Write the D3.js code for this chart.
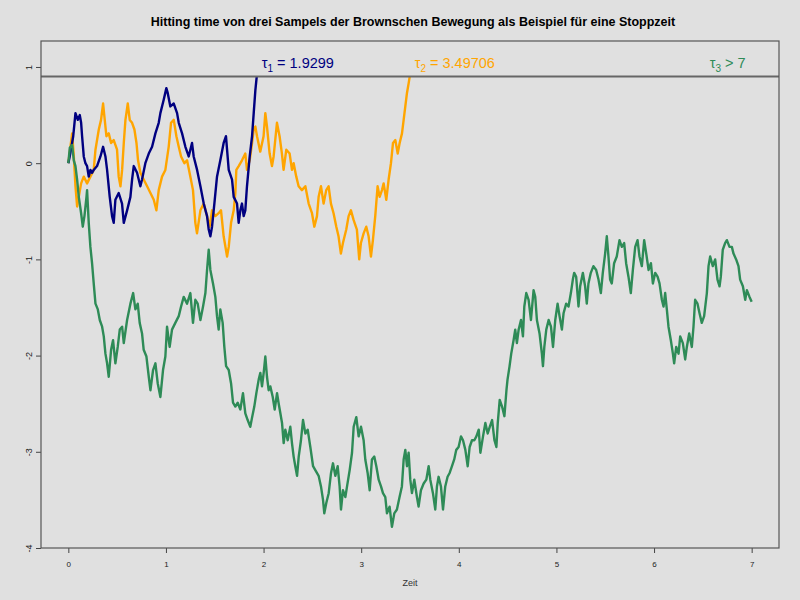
<!DOCTYPE html>
<html>
<head>
<meta charset="utf-8">
<script src="https://cdn.jsdelivr.net/npm/d3@7"></script>
<style>
    body { margin: 0; background: #e0e0e0; }
    svg { display: block; }
</style>
</head>
<body>
<svg id="chart"></svg>
<script>
// Hitting time der Brownschen Bewegung, drei Pfade
const level = 0.9;
const xTicks = [0, 1, 2, 3, 4, 5, 6, 7];
const yTicks = [-4, -3, -2, -1, 0, 1];
const taus = [1.9299, 3.49706, 7];
const tauLabels = ["= 1.9299", "= 3.49706", "> 7"];
const colors = ["#000080", "#ffa500", "#2e8b57"];

// Pfad 1 [Zeit, Wert]
const path1 = [[0,0],[0.02,0.10],[0.05,0.28],[0.073,0.52],[0.097,0.45],[0.117,0.50],[0.131,0.42],[0.141,0.28],[0.158,0.07],[0.175,0.0],[0.192,-0.03],[0.209,-0.14],[0.226,-0.07],[0.243,-0.10],[0.26,-0.07],[0.294,-0.03],[0.329,0.07],[0.356,0.17],[0.38,0.07],[0.397,-0.07],[0.424,-0.35],[0.448,-0.55],[0.465,-0.62],[0.482,-0.38],[0.516,-0.31],[0.55,-0.42],[0.568,-0.62],[0.602,-0.49],[0.636,-0.35],[0.653,-0.17],[0.67,-0.03],[0.704,-0.10],[0.738,-0.24],[0.755,-0.17],[0.789,0.0],[0.824,0.10],[0.858,0.17],[0.892,0.31],[0.926,0.42],[0.943,0.52],[0.977,0.66],[1.004,0.78],[1.018,0.73],[1.045,0.59],[1.08,0.62],[1.114,0.52],[1.131,0.42],[1.165,0.31],[1.199,0.17],[1.233,0.07],[1.267,0.21],[1.284,0.07],[1.319,-0.07],[1.353,-0.24],[1.387,-0.42],[1.421,-0.55],[1.438,-0.69],[1.455,-0.76],[1.472,-0.66],[1.496,-0.42],[1.523,-0.14],[1.557,0.03],[1.591,0.21],[1.615,0.28],[1.626,0.14],[1.643,-0.07],[1.677,-0.17],[1.694,-0.35],[1.728,-0.42],[1.745,-0.62],[1.762,-0.49],[1.779,-0.42],[1.796,-0.55],[1.813,-0.49],[1.83,-0.24],[1.858,0.07],[1.882,0.28],[1.899,0.52],[1.916,0.76],[1.9299,0.9]];

// Pfad 2
const path2 = [[0,0],[0.039,0.31],[0.056,0.07],[0.073,-0.24],[0.09,-0.45],[0.107,-0.35],[0.131,-0.21],[0.158,-0.14],[0.192,-0.21],[0.226,-0.14],[0.26,-0.07],[0.278,0.14],[0.312,0.35],[0.335,0.45],[0.356,0.62],[0.37,0.48],[0.39,0.28],[0.414,0.31],[0.438,0.21],[0.465,0.24],[0.499,0.14],[0.516,-0.14],[0.534,-0.24],[0.551,-0.07],[0.568,0.21],[0.585,0.45],[0.609,0.62],[0.629,0.45],[0.653,0.42],[0.677,0.35],[0.698,0.21],[0.714,0.03],[0.738,-0.10],[0.772,-0.17],[0.807,-0.24],[0.841,-0.31],[0.875,-0.38],[0.902,-0.49],[0.926,-0.28],[0.96,-0.14],[0.994,-0.07],[1.028,0.17],[1.052,0.42],[1.08,0.45],[1.107,0.28],[1.131,0.17],[1.155,0.07],[1.189,0.0],[1.216,0.03],[1.25,-0.14],[1.277,-0.28],[1.301,-0.62],[1.318,-0.73],[1.353,-0.49],[1.387,-0.42],[1.421,-0.55],[1.448,-0.66],[1.472,-0.49],[1.506,-0.55],[1.54,-0.52],[1.564,-0.49],[1.591,-0.76],[1.626,-0.97],[1.643,-0.87],[1.667,-0.62],[1.694,-0.49],[1.711,-0.31],[1.721,-0.07],[1.745,-0.03],[1.779,0.03],[1.813,0.10],[1.83,-0.07],[1.858,0.03],[1.882,0.21],[1.899,0.35],[1.916,0.38],[1.933,0.28],[1.966,0.12],[2.0,0.28],[2.018,0.52],[2.035,0.38],[2.062,0.10],[2.086,-0.03],[2.103,0.07],[2.137,0.42],[2.164,0.28],[2.188,0.10],[2.205,-0.07],[2.233,0.14],[2.267,0.10],[2.291,-0.07],[2.308,0.0],[2.335,-0.14],[2.359,-0.24],[2.393,-0.28],[2.428,-0.24],[2.462,-0.42],[2.496,-0.52],[2.52,-0.66],[2.547,-0.55],[2.564,-0.35],[2.588,-0.24],[2.615,-0.42],[2.642,-0.28],[2.666,-0.24],[2.69,-0.42],[2.717,-0.52],[2.745,-0.66],[2.768,-0.76],[2.792,-0.94],[2.813,-0.83],[2.847,-0.69],[2.871,-0.55],[2.895,-0.49],[2.922,-0.59],[2.956,-0.69],[2.98,-1.0],[2.997,-0.83],[3.025,-0.73],[3.052,-0.66],[3.076,-0.76],[3.1,-0.97],[3.12,-0.80],[3.144,-0.55],[3.168,-0.24],[3.189,-0.35],[3.213,-0.28],[3.23,-0.21],[3.257,-0.38],[3.281,-0.17],[3.305,0.0],[3.326,0.21],[3.35,0.24],[3.374,0.10],[3.394,0.21],[3.418,0.31],[3.435,0.45],[3.452,0.59],[3.469,0.73],[3.486,0.83],[3.49706,0.9]];

// Pfad 3
const path3 = [[0,0],[0.015,0.16],[0.039,0.19],[0.056,0.03],[0.073,-0.03],[0.09,-0.17],[0.107,-0.35],[0.131,-0.52],[0.148,-0.66],[0.165,-0.55],[0.186,-0.35],[0.192,-0.28],[0.209,-0.62],[0.226,-0.87],[0.243,-1.04],[0.26,-1.25],[0.278,-1.46],[0.302,-1.52],[0.322,-1.63],[0.346,-1.7],[0.363,-1.8],[0.38,-1.98],[0.397,-2.08],[0.414,-2.22],[0.438,-1.94],[0.458,-1.84],[0.482,-2.08],[0.506,-1.91],[0.527,-1.73],[0.551,-1.7],[0.568,-1.87],[0.602,-1.63],[0.636,-1.46],[0.664,-1.35],[0.687,-1.52],[0.711,-1.46],[0.731,-1.66],[0.755,-1.77],[0.772,-1.94],[0.8,-2.01],[0.824,-2.22],[0.841,-2.36],[0.868,-2.15],[0.892,-2.08],[0.916,-2.29],[0.943,-2.43],[0.97,-2.15],[0.994,-2.01],[1.011,-1.7],[1.038,-1.91],[1.062,-1.73],[1.096,-1.66],[1.131,-1.59],[1.155,-1.49],[1.182,-1.39],[1.216,-1.46],[1.25,-1.35],[1.277,-1.66],[1.301,-1.42],[1.325,-1.46],[1.353,-1.63],[1.38,-1.49],[1.404,-1.35],[1.421,-1.11],[1.438,-0.9],[1.455,-1.11],[1.482,-1.25],[1.506,-1.39],[1.523,-1.59],[1.54,-1.73],[1.557,-1.52],[1.581,-1.66],[1.598,-1.91],[1.616,-2.11],[1.643,-2.15],[1.667,-2.29],[1.687,-2.49],[1.711,-2.53],[1.735,-2.49],[1.762,-2.56],[1.789,-2.39],[1.813,-2.6],[1.837,-2.67],[1.864,-2.74],[1.881,-2.65],[1.905,-2.53],[1.926,-2.39],[1.95,-2.25],[1.967,-2.18],[1.984,-2.32],[2.001,-2.18],[2.018,-2.01],[2.035,-2.22],[2.052,-2.36],[2.069,-2.32],[2.094,-2.43],[2.114,-2.56],[2.138,-2.39],[2.155,-2.5],[2.172,-2.6],[2.189,-2.7],[2.206,-2.91],[2.223,-2.77],[2.247,-2.88],[2.274,-2.74],[2.291,-2.91],[2.308,-3.05],[2.325,-3.15],[2.343,-3.25],[2.36,-3.05],[2.383,-2.88],[2.404,-2.67],[2.428,-2.81],[2.452,-2.77],[2.479,-2.95],[2.507,-3.15],[2.53,-3.19],[2.564,-3.25],[2.588,-3.36],[2.609,-3.5],[2.622,-3.64],[2.643,-3.53],[2.667,-3.43],[2.691,-3.22],[2.711,-3.12],[2.735,-3.25],[2.759,-3.15],[2.779,-3.36],[2.793,-3.6],[2.813,-3.4],[2.838,-3.47],[2.855,-3.36],[2.882,-3.19],[2.906,-3.01],[2.923,-2.74],[2.95,-2.64],[2.974,-2.84],[2.998,-2.74],[3.025,-2.88],[3.042,-3.08],[3.066,-3.22],[3.087,-3.4],[3.11,-3.08],[3.134,-3.05],[3.155,-3.15],[3.179,-3.29],[3.203,-3.36],[3.223,-3.43],[3.247,-3.47],[3.264,-3.64],[3.291,-3.57],[3.315,-3.78],[3.339,-3.64],[3.366,-3.6],[3.393,-3.47],[3.417,-3.36],[3.435,-3.08],[3.452,-2.98],[3.469,-3.15],[3.486,-3.01],[3.503,-3.29],[3.52,-3.43],[3.544,-3.29],[3.571,-3.47],[3.588,-3.57],[3.612,-3.4],[3.64,-3.33],[3.667,-3.29],[3.691,-3.15],[3.708,-3.29],[3.735,-3.43],[3.759,-3.6],[3.776,-3.36],[3.793,-3.26],[3.817,-3.36],[3.838,-3.6],[3.861,-3.36],[3.885,-3.26],[3.906,-3.22],[3.93,-3.15],[3.953,-3.08],[3.974,-2.98],[3.998,-2.95],[4.022,-2.84],[4.043,-2.88],[4.067,-2.98],[4.091,-3.15],[4.111,-2.95],[4.135,-2.88],[4.159,-2.88],[4.18,-2.84],[4.204,-2.77],[4.221,-3.01],[4.248,-2.84],[4.272,-2.7],[4.296,-2.81],[4.317,-2.74],[4.341,-2.67],[4.365,-2.88],[4.385,-2.95],[4.399,-2.7],[4.419,-2.46],[4.443,-2.53],[4.467,-2.63],[4.488,-2.36],[4.499,-2.25],[4.52,-2.11],[4.537,-1.98],[4.561,-1.84],[4.578,-1.73],[4.595,-1.87],[4.613,-1.73],[4.637,-1.63],[4.657,-1.8],[4.671,-1.49],[4.691,-1.35],[4.715,-1.42],[4.739,-1.63],[4.766,-1.32],[4.783,-1.39],[4.8,-1.63],[4.827,-1.77],[4.851,-1.98],[4.862,-2.11],[4.876,-1.91],[4.896,-1.73],[4.92,-1.63],[4.944,-1.7],[4.965,-1.91],[4.988,-1.63],[5.012,-1.46],[5.032,-1.59],[5.056,-1.73],[5.073,-1.56],[5.1,-1.46],[5.124,-1.49],[5.148,-1.35],[5.168,-1.21],[5.182,-1.14],[5.202,-1.18],[5.226,-1.49],[5.243,-1.28],[5.271,-1.14],[5.294,-1.28],[5.311,-1.46],[5.328,-1.25],[5.352,-1.14],[5.379,-1.07],[5.407,-1.11],[5.431,-1.21],[5.455,-1.35],[5.475,-1.14],[5.499,-0.94],[5.516,-0.76],[5.533,-0.97],[5.55,-1.21],[5.567,-1.25],[5.591,-1.04],[5.618,-0.97],[5.646,-0.8],[5.67,-0.87],[5.694,-0.83],[5.714,-1.04],[5.738,-1.18],[5.762,-1.35],[5.783,-1.11],[5.807,-0.87],[5.831,-0.8],[5.851,-0.97],[5.875,-1.07],[5.899,-0.8],[5.92,-0.94],[5.944,-1.11],[5.968,-1.04],[5.988,-1.25],[6.012,-1.14],[6.036,-1.18],[6.056,-1.25],[6.08,-1.42],[6.097,-1.49],[6.114,-1.35],[6.131,-1.52],[6.148,-1.7],[6.172,-1.84],[6.193,-1.98],[6.206,-2.08],[6.227,-1.91],[6.251,-1.98],[6.268,-1.8],[6.295,-1.87],[6.319,-2.04],[6.336,-1.91],[6.36,-1.77],[6.387,-1.91],[6.404,-1.7],[6.421,-1.42],[6.445,-1.46],[6.466,-1.56],[6.489,-1.66],[6.513,-1.59],[6.541,-1.35],[6.558,-1.07],[6.575,-0.97],[6.602,-1.07],[6.626,-1.0],[6.65,-1.21],[6.671,-1.28],[6.684,-1.18],[6.704,-0.9],[6.728,-0.83],[6.746,-0.8],[6.773,-0.87],[6.797,-0.87],[6.814,-0.94],[6.841,-1.0],[6.865,-1.07],[6.882,-1.21],[6.91,-1.28],[6.934,-1.42],[6.951,-1.32],[6.978,-1.39],[7.0,-1.44]];

const paths = [path1, path2, path3];

const width = 800;
const height = 600;
const margin = ({top: 41, right: 21, bottom: 52, left: 41});

const svg = d3.select("#chart")
    .attr("width", width)
    .attr("height", height)
    .attr("viewBox", [0, 0, width, height])
    .style("font-family", "'Liberation Sans', Arial, sans-serif");

svg.append("rect")
    .attr("width", width)
    .attr("height", height)
    .attr("fill", "#e0e0e0");

let x = d3.scaleLinear()
    .domain([-0.28, 7.28])
    .range([margin.left, width - margin.right]);

let y = d3.scaleLinear()
    .domain([-4, 1.27])
    .range([height - margin.bottom, margin.top]);

let xAxis = g => g
    .attr("transform", `translate(0,${height - margin.bottom})`)
    .call(d3.axisBottom(x).tickValues(xTicks).tickSize(5).tickPadding(8).tickFormat(d => String(d)))
    .call(g => g.select(".domain").remove());

let yAxis = g => g
    .attr("transform", `translate(${margin.left},0)`)
    .call(d3.axisLeft(y).tickValues(yTicks).tickSize(5).tickFormat(d => String(d)))
    .call(g => g.select(".domain").remove())
    .call(g => g.selectAll(".tick text")
        .attr("x", 0)
        .attr("dy", 0)
        .attr("text-anchor", "middle")
        .attr("transform", "translate(-9.5,0) rotate(-90)"));

svg.append("g").call(xAxis)
    .selectAll("text").attr("fill", "#222").style("font-size", "8px");
svg.append("g").call(yAxis)
    .selectAll("text").attr("fill", "#222").style("font-size", "9px");
svg.selectAll(".tick line").attr("stroke", "#444");

const line = d3.line()
    .x(d => x(d[0]))
    .y(d => y(d[1]));

// Zeichenreihenfolge: orange, blau, grün
svg.append("g")
    .selectAll("path")
    .data([1, 0, 2])
    .join("path")
    .attr("fill", "none")
    .attr("stroke", i => colors[i])
    .attr("stroke-width", 2.4)
    .attr("stroke-linejoin", "round")
    .attr("d", i => line(paths[i]));

// Niveau
svg.append("line")
    .attr("x1", x.range()[0])
    .attr("x2", x.range()[1])
    .attr("y1", y(level))
    .attr("y2", y(level))
    .attr("stroke", "#666")
    .attr("stroke-width", 2);

// Rahmen
svg.append("rect")
    .attr("x", margin.left)
    .attr("y", margin.top)
    .attr("width", width - margin.left - margin.right)
    .attr("height", height - margin.top - margin.bottom)
    .attr("fill", "none")
    .attr("stroke", "#555")
    .attr("stroke-width", 1.2);

// Beschriftung der Stoppzeiten
const labels = svg.append("g")
    .style("font-size", "14.5px")
    .selectAll("text")
    .data(taus)
    .join("text")
    .attr("x", (d, i) => i < 2 ? x(d) + 5 : x(d) - 6)
    .attr("y", y(0.99))
    .attr("text-anchor", (d, i) => i < 2 ? "start" : "end")
    .attr("fill", (d, i) => colors[i]);

labels.append("tspan").text("τ");
labels.append("tspan")
    .attr("dy", 4)
    .style("font-size", "10px")
    .text((d, i) => i + 1);
labels.append("tspan")
    .attr("dy", -4)
    .text((d, i) => " " + tauLabels[i]);

svg.append("text")
    .attr("x", (x.range()[0] + x.range()[1]) / 2 + 3)
    .attr("y", 26)
    .attr("text-anchor", "middle")
    .attr("fill", "#000")
    .style("font-size", "12.5px")
    .style("font-weight", "bold")
    .text("Hitting time von drei Sampels der Brownschen Bewegung als Beispiel für eine Stoppzeit");

svg.append("text")
    .attr("x", (x.range()[0] + x.range()[1]) / 2)
    .attr("y", 586)
    .attr("text-anchor", "middle")
    .attr("fill", "#333")
    .style("font-size", "9px")
    .text("Zeit");
</script>
</body>
</html>
